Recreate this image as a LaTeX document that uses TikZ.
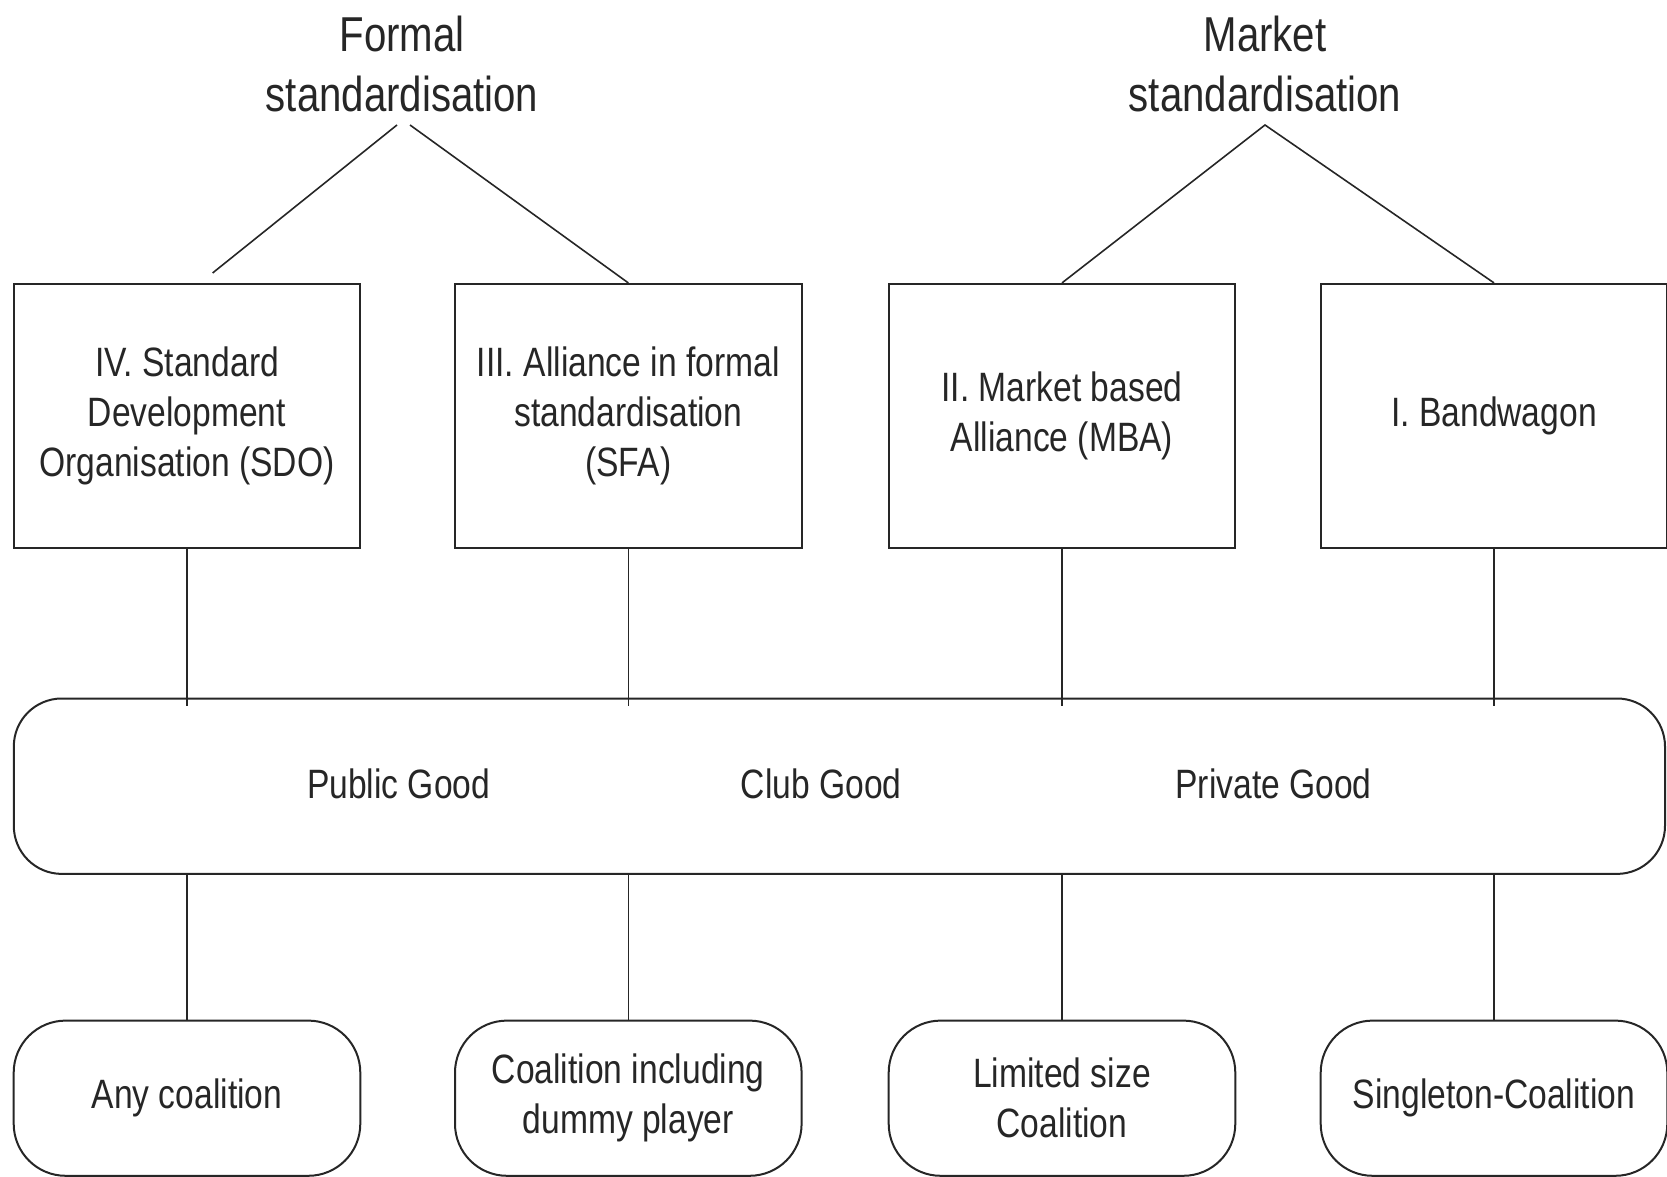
\documentclass[tikz,border=0pt]{standalone}
\usepackage{fontspec}
\setmainfont{Liberation Sans}[FakeStretch=0.82]
\begin{document}
\begin{tikzpicture}[x=0.5pt,y=-0.5pt,
  box/.style={draw=black!85, line width=1pt, minimum width=173.3pt, minimum height=131.8pt,
    align=center, font=\fontsize{20.5}{25}\selectfont, text=black!85, inner sep=0pt},
  rbox/.style={box, rounded corners=26pt, minimum height=77.6pt},
  lbl/.style={font=\fontsize{20.5}{25}\selectfont, text=black!85, inner sep=0pt},
  titlelbl/.style={align=center, font=\fontsize{24.5}{30}\selectfont, text=black!85, inner sep=0pt},
  conn/.style={draw=black!85, line width=0.8pt}]
\useasboundingbox (0,0) rectangle (1667,1177);

% titles
\node[titlelbl] (ftitle) at (402,64) {Formal\\standardisation};
\node[titlelbl] (mtitle) at (1265,64) {Market\\standardisation};

% top boxes
\node[box] (b4) at (187,415.7) {IV. Standard\\Development\\Organisation (SDO)};
\node[box] (b3) at (628.3,415.7) {III. Alliance in formal\\standardisation\\(SFA)};
\node[box] (b2) at (1062,415.7) {II. Market based\\Alliance (MBA)};
\node[box] (b1) at (1494,415.7) {I. Bandwagon};

% goods band
\node[box, rounded corners=24pt, minimum width=825.6pt, minimum height=87.7pt] (goods) at (839.4,786.2) {};
\node[lbl] (pub) at (398.7,783.5) {Public Good};
\node[lbl] (club) at (821.2,783.5) {Club Good};
\node[lbl] (priv) at (1273.6,783.5) {Private Good};

% bottom boxes
\node[rbox] (c4) at (187,1098.2) {Any coalition};
\node[rbox] (c3) at (628.3,1098.2) {Coalition including\\dummy player};
\node[rbox] (c2) at (1062,1098.2) {Limited size\\Coalition};
\node[rbox] (c1) at (1494,1098.2) {Singleton-Coalition};

% title connectors
\coordinate (fa1) at (397,125);
\coordinate (fa2) at (410,125);
\coordinate (fl) at (212.6,273);
\coordinate (ma) at (1265,125);
\draw[conn] (fa1) -- (fl);
\draw[conn] (fa2) -- (b3.north);
\draw[conn] (b2.north) -- (ma) -- (b1.north);

% vertical connectors
\foreach \b/\c in {b4/c4,b3/c3,b2/c2,b1/c1}{
  \draw[conn] (\b.south) -- ([yshift=-4pt]\b.south |- goods.north);
  \draw[conn] (\b.south |- goods.south) -- (\c.north);
}
\end{tikzpicture}
\end{document}
